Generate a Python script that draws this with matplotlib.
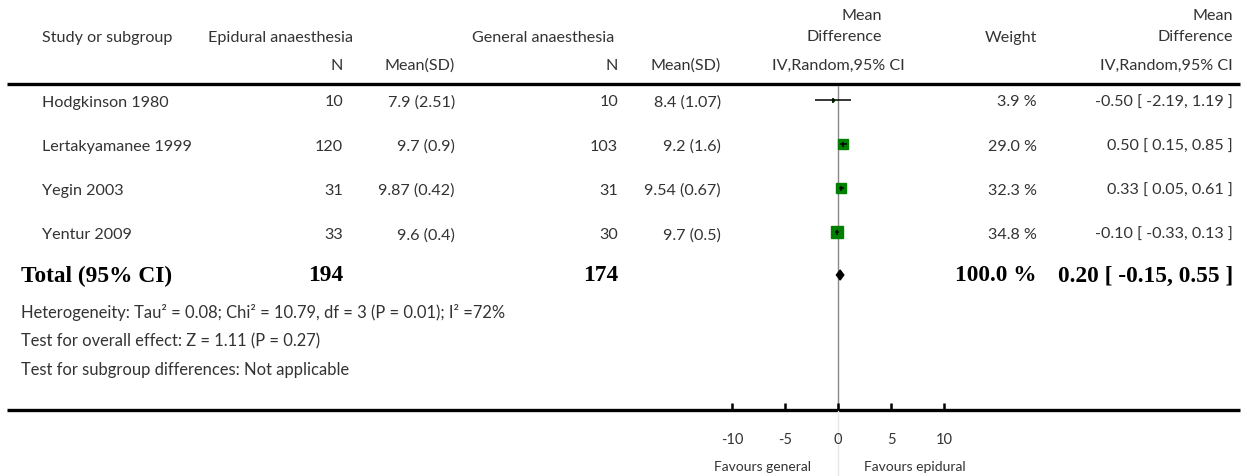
import numpy as np
import matplotlib
matplotlib.use("Agg")
import matplotlib.pyplot as plt
from matplotlib.patches import Polygon
from matplotlib.transforms import blended_transform_factory

# ---- data ----
studies = ["Hodgkinson 1980", "Lertakyamanee 1999", "Yegin 2003", "Yentur 2009"]
epi_n = [10, 120, 31, 33]
epi_mean_sd = ["7.9 (2.51)", "9.7 (0.9)", "9.87 (0.42)", "9.6 (0.4)"]
gen_n = [10, 103, 31, 30]
gen_mean_sd = ["8.4 (1.07)", "9.2 (1.6)", "9.54 (0.67)", "9.7 (0.5)"]
md = [-0.50, 0.50, 0.33, -0.10]
ci_lo = [-2.19, 0.15, 0.05, -0.33]
ci_hi = [1.19, 0.85, 0.61, 0.13]
weights = [3.9, 29.0, 32.3, 34.8]

total_epi_n = 194
total_gen_n = 174
total_md, total_lo, total_hi = 0.20, -0.15, 0.55
total_weight = 100.0

footnotes = [
    "Heterogeneity: Tau\u00b2 = 0.08; Chi\u00b2 = 10.79, df = 3 (P = 0.01); I\u00b2 =72%",
    "Test for overall effect: Z = 1.11 (P = 0.27)",
    "Test for subgroup differences: Not applicable",
]
xticks = [-10, -5, 0, 5, 10]

# ---- layout (pixels) ----
W, H = 1247, 477
row_y = [100.5 + 44.2 * i for i in range(len(studies))]
total_y = 276
FONT = "Lato"
TXT = "#333333"
fs = 11.6

fig = plt.figure(figsize=(W / 100, H / 100), dpi=100)
bg = fig.add_axes([0, 0, 1, 1])
bg.set_xlim(0, W)
bg.set_ylim(H, 0)
bg.axis("off")

def t(x, y, s, ha="left", **kw):
    kw.setdefault("fontsize", fs)
    kw.setdefault("family", FONT)
    kw.setdefault("color", TXT)
    bg.text(x, y, s, ha=ha, va="center", **kw)

# headers
t(42, 38, "Study or subgroup")
t(208, 38, "Epidural anaesthesia")
t(472, 38, "General anaesthesia")
t(882, 16, "Mean", ha="right")
t(882, 37, "Difference", ha="right")
t(1037, 38, "Weight", ha="right")
t(1233, 16, "Mean", ha="right")
t(1233, 37, "Difference", ha="right")
t(343, 66, "N", ha="right")
t(455, 66, "Mean(SD)", ha="right")
t(618, 66, "N", ha="right")
t(721, 66, "Mean(SD)", ha="right")
t(838, 66, "IV,Random,95% CI", ha="center")
t(1233, 66, "IV,Random,95% CI", ha="right")

bg.plot([7, 1240], [85, 85], color="black", lw=2.4, solid_capstyle="butt")
bg.plot([7, 1240], [410.5, 410.5], color="black", lw=2.4, solid_capstyle="butt")

# study rows
for i, name in enumerate(studies):
    y = row_y[i] + 2
    t(42, y, name)
    t(343, y, str(epi_n[i]), ha="right")
    t(455, y, epi_mean_sd[i], ha="right")
    t(618, y, str(gen_n[i]), ha="right")
    t(721, y, gen_mean_sd[i], ha="right")
    t(1037, y, f"{weights[i]:.1f} %", ha="right")
    t(1233, y, f"{md[i]:.2f} [ {ci_lo[i]:.2f}, {ci_hi[i]:.2f} ]", ha="right")

# total row
bold = dict(family="Liberation Serif", fontweight="bold", fontsize=16.8, color="black")
t(21, total_y, "Total (95% CI)", **bold)
t(343, total_y, str(total_epi_n), ha="right", **bold)
t(618, total_y, str(total_gen_n), ha="right", **bold)
t(1037, total_y, f"{total_weight:.1f} %", ha="right", **bold)
t(1233, total_y, f"{total_md:.2f} [ {total_lo:.2f}, {total_hi:.2f} ]", ha="right", **bold)

for j, line in enumerate(footnotes):
    t(21, 313 + 28.5 * j, line, fontsize=11.9)

# ---- forest panel ----
x0, x1 = 732, 944
ax = fig.add_axes([x0 / W, (H - 410.5) / H, (x1 - x0) / W, (410.5 - 87) / H])
ax.set_xlim(-10, 10)
ax.set_ylim(410.5, 87)
for sp in ax.spines.values():
    sp.set_visible(False)
ax.patch.set_alpha(0)
ax.set_yticks([])
ax.set_xticks(xticks)
ax.set_xticklabels([str(v) for v in xticks], family=FONT, fontsize=10.5, color=TXT)
ax.tick_params(axis="x", direction="in", length=5, width=1.8, pad=16)

ax.axvline(0, color="#888888", lw=1, zorder=1)
tr = blended_transform_factory(ax.transData, bg.transData)
bg.plot([0, 0], [412, H], color="#e6e6e6", lw=1, transform=tr)

max_w = max(weights)
for i in range(len(studies)):
    y = row_y[i]
    side_px = 11.3 * (weights[i] / max_w) ** 0.75
    ax.plot(md[i], y, marker="s", ms=side_px * 0.72, color="#008000", mec="#008000", zorder=3)
    ax.plot([ci_lo[i], ci_hi[i]], [y, y], color="black", lw=1.1, zorder=4, solid_capstyle="butt")
    ax.plot(md[i], y, marker="|", ms=3.6, mew=1.1, color="black", zorder=4)

dh = 5
ax.add_patch(Polygon([(total_lo, total_y), (total_md, total_y - dh), (total_hi, total_y),
                      (total_md, total_y + dh)], closed=True, color="black", zorder=4))

ax.text(-2.5, 467, "Favours general", ha="right", va="center", family=FONT, fontsize=10, color=TXT)
ax.text(2.5, 467, "Favours epidural", ha="left", va="center", family=FONT, fontsize=10, color=TXT)

fig.savefig("out.png", dpi=100)
